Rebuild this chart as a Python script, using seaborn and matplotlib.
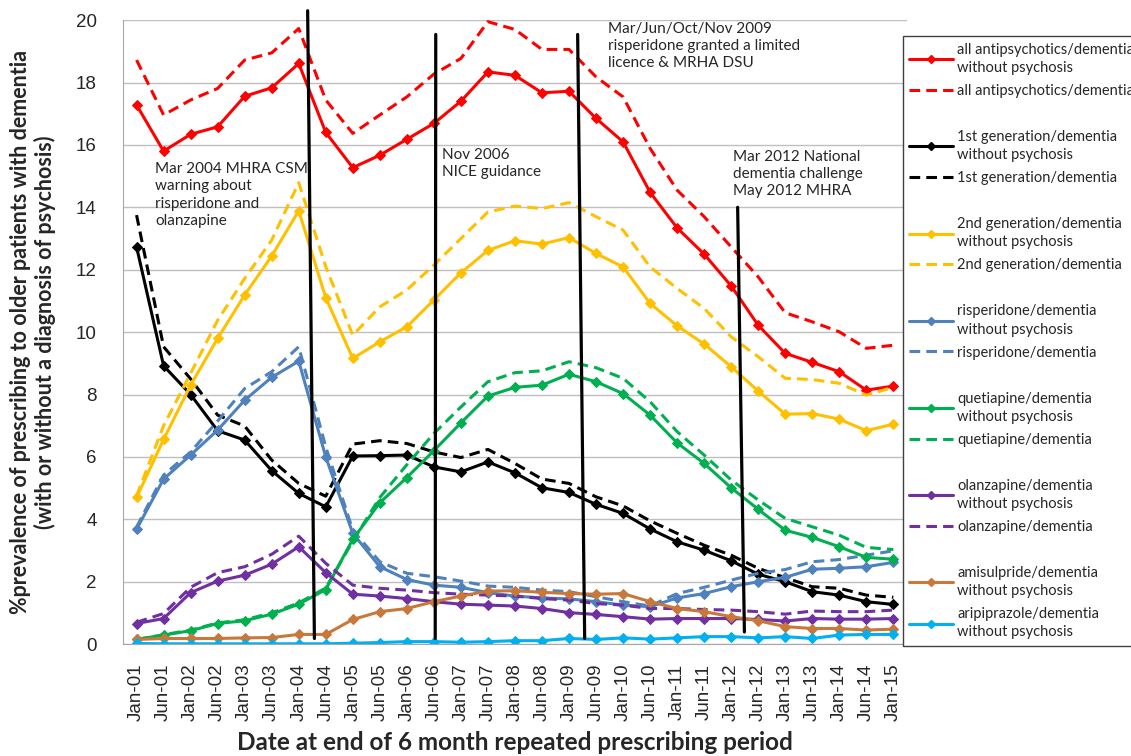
import numpy as np
import pandas as pd
import seaborn as sns
import matplotlib.pyplot as plt
from matplotlib.lines import Line2D
sns.set_style("white")
plt.rcParams['font.family'] = ['Lato', 'DejaVu Sans']

# Data
periods = []
for yr in range(1, 15):
    periods += ['Jan-%02d' % yr, 'Jun-%02d' % yr]
periods.append('Jan-15')

all_wo = [17.28, 15.8, 16.34, 16.58, 17.56, 17.83, 18.61, 16.40, 15.27, 15.67, 16.18, 16.69, 17.4, 18.34, 18.23,
          17.67, 17.72, 16.85, 16.1, 14.48, 13.34, 12.5, 11.48, 10.22, 9.32, 9.03, 8.73, 8.14, 8.27]
all_d = [18.72, 16.96, 17.44, 17.81, 18.72, 18.95, 19.73, 17.44, 16.37, 16.96, 17.54, 18.27, 18.77, 19.95, 19.7,
         19.06, 19.06, 18.18, 17.54, 15.89, 14.55, 13.7, 12.73, 11.77, 10.62, 10.33, 10.01, 9.48, 9.58]
first_wo = [12.73, 8.92, 8.0, 6.84, 6.54, 5.56, 4.83, 4.40, 6.03, 6.04, 6.06, 5.68, 5.52, 5.84, 5.49,
            5.01, 4.86, 4.48, 4.19, 3.69, 3.28, 3.01, 2.67, 2.24, 2.0, 1.68, 1.57, 1.36, 1.27]
first_d = [13.75, 9.53, 8.5, 7.34, 6.99, 5.9, 5.15, 4.74, 6.41, 6.52, 6.43, 6.16, 5.98, 6.24, 5.79,
           5.29, 5.15, 4.72, 4.43, 3.95, 3.55, 3.17, 2.85, 2.43, 2.13, 1.84, 1.79, 1.57, 1.5]
second_wo = [4.70, 6.56, 8.3, 9.80, 11.19, 12.44, 13.89, 11.1, 9.16, 9.69, 10.17, 11.03, 11.9, 12.62, 12.93,
             12.82, 13.03, 12.52, 12.09, 10.92, 10.2, 9.62, 8.89, 8.11, 7.37, 7.39, 7.21, 6.84, 7.05]
second_d = [4.75, 7.0, 8.68, 10.38, 11.72, 12.95, 14.79, 12.1, 9.9, 10.81, 11.35, 12.15, 13.0, 13.85, 14.04,
            13.96, 14.15, 13.7, 13.27, 12.09, 11.4, 10.76, 9.85, 9.21, 8.52, 8.48, 8.36, 7.98, 8.23]
risp_wo = [3.68, 5.29, 6.06, 6.86, 7.82, 8.55, 9.07, 6.0, 3.55, 2.48, 2.07, 1.89, 1.82, 1.65, 1.54,
           1.48, 1.45, 1.36, 1.25, 1.2, 1.48, 1.62, 1.84, 2.0, 2.14, 2.40, 2.43, 2.48, 2.62]
risp_d = [3.75, 5.42, 6.16, 7.15, 8.19, 8.73, 9.53, 6.32, 3.65, 2.64, 2.27, 2.16, 2.02, 1.86, 1.82,
          1.73, 1.68, 1.52, 1.36, 1.22, 1.62, 1.82, 2.05, 2.27, 2.39, 2.64, 2.71, 2.85, 2.99]
quet_wo = [0.15, 0.29, 0.43, 0.66, 0.75, 0.96, 1.28, 1.75, 3.36, 4.53, 5.34, 6.2, 7.09, 7.95, 8.23,
           8.3, 8.65, 8.41, 8.03, 7.34, 6.45, 5.79, 5.01, 4.32, 3.65, 3.42, 3.12, 2.78, 2.72]
quet_d = [0.15, 0.3, 0.45, 0.68, 0.78, 1.0, 1.32, 1.8, 3.3, 4.7, 5.75, 6.75, 7.6, 8.41, 8.7,
          8.76, 9.05, 8.86, 8.52, 7.77, 6.81, 6.06, 5.26, 4.62, 4.03, 3.76, 3.49, 3.1, 3.03]
olan_wo = [0.66, 0.82, 1.65, 2.02, 2.21, 2.56, 3.12, 2.29, 1.6, 1.54, 1.46, 1.36, 1.28, 1.25, 1.22,
           1.14, 1.01, 0.95, 0.88, 0.8, 0.82, 0.82, 0.82, 0.79, 0.74, 0.82, 0.8, 0.8, 0.82]
olan_d = [0.7, 0.98, 1.82, 2.29, 2.48, 2.88, 3.46, 2.59, 1.89, 1.79, 1.73, 1.65, 1.6, 1.57, 1.54,
          1.46, 1.41, 1.3, 1.25, 1.14, 1.14, 1.11, 1.09, 1.04, 0.96, 1.06, 1.04, 1.04, 1.09]
amis_wo = [0.15, 0.18, 0.18, 0.18, 0.2, 0.21, 0.31, 0.31, 0.79, 1.04, 1.14, 1.36, 1.54, 1.7, 1.71,
           1.66, 1.62, 1.6, 1.62, 1.36, 1.14, 1.04, 0.88, 0.75, 0.56, 0.5, 0.5, 0.45, 0.48]
arip_wo = [0.02, 0.01, 0.01, 0.01, 0.01, 0.01, 0.01, 0.01, 0.03, 0.05, 0.08, 0.08, 0.06, 0.08, 0.11,
           0.11, 0.18, 0.15, 0.2, 0.16, 0.2, 0.24, 0.24, 0.2, 0.24, 0.18, 0.29, 0.31, 0.31]

# (label, values, colour, dashed?) in legend order; None = gap in legend
series = [
    ('all antipsychotics/dementia\nwithout psychosis', all_wo, '#FF0000', False),
    ('all antipsychotics/dementia', all_d, '#FF0000', True), None,
    ('1st generation/dementia\nwithout psychosis', first_wo, 'black', False),
    ('1st generation/dementia', first_d, 'black', True), None,
    ('2nd generation/dementia\nwithout psychosis', second_wo, '#FFC000', False),
    ('2nd generation/dementia', second_d, '#FFC000', True), None,
    ('risperidone/dementia\nwithout psychosis', risp_wo, '#4F81BD', False),
    ('risperidone/dementia', risp_d, '#4F81BD', True), None,
    ('quetiapine/dementia\nwithout psychosis', quet_wo, '#00B050', False),
    ('quetiapine/dementia', quet_d, '#00B050', True), None,
    ('olanzapine/dementia\nwithout psychosis', olan_wo, '#7030A0', False),
    ('olanzapine/dementia', olan_d, '#7030A0', True), None,
    ('amisulpride/dementia\nwithout psychosis', amis_wo, '#C8783A', False),
    ('aripiprazole/dementia\nwithout psychosis', arip_wo, '#00B0F0', False),
]

# event lines: (x_top, x_bottom), (y_top, y_bottom) in category units
events_x = [(6.33, 6.58), (11.07, 11.05), (16.32, 16.58), (22.24, 22.49)]
events_y = [(20.3, 0.18), (19.54, 0.18), (19.54, 0.18), (14.0, 0.39)]
notes = ['Mar 2004 MHRA CSM\nwarning about\nrisperidone and\nolanzapine',
         'Nov 2006\nNICE guidance',
         'Mar/Jun/Oct/Nov 2009\nrisperidone granted a limited\nlicence & MRHA DSU',
         'Mar 2012 National\ndementia challenge\nMay 2012 MHRA']
notes_xy = [(0.68, 15.45), (11.3, 15.9), (17.45, 19.95), (22.05, 15.85)]

idx = np.arange(len(periods))

fig = plt.figure(figsize=(11.31, 7.56), dpi=100)
ax = fig.add_axes([0.1088, 0.148, 0.693, 0.8254])

handles = []
for s in series:
    if s is None:
        handles.append(Line2D([], [], linestyle='none', label=' '))
        continue
    label, vals, col, dashed = s
    df = pd.DataFrame({'x': idx, 'y': vals})
    if dashed:
        sns.lineplot(data=df, x='x', y='y', color=col, lw=2.2, linestyle=(0, (3.5, 2)), ax=ax, legend=False)
        handles.append(Line2D([], [], color=col, lw=2.2, linestyle=(0, (3.5, 2)), label=label))
    else:
        sns.lineplot(data=df, x='x', y='y', color=col, lw=2.2, marker='D', markersize=5,
                     mec=col, mfc=col, ax=ax, legend=False)
        handles.append(Line2D([], [], color=col, lw=2.2, marker='D', markersize=4, mec=col, label=label))

for (x0, x1), (y0, y1) in zip(events_x, events_y):
    ax.plot([x0, x1], [y0, y1], color='black', lw=2.3, clip_on=False, zorder=5)
for txt, (tx, ty) in zip(notes, notes_xy):
    ax.text(tx, ty, txt, fontsize=11, va='top', ha='left', linespacing=1.3, zorder=6)

ax.set_xlim(-0.5, len(periods) - 0.5)
ax.set_ylim(0, 20)
ax.set_yticks(np.arange(0, 21, 2))
ax.set_xticks(idx)
ax.set_xticklabels(periods, rotation=90, family='Liberation Sans', fontsize=13.5)
ax.set_xticks(np.arange(-0.5, len(periods), 1), minor=True)
ax.tick_params(axis='x', which='major', length=0, pad=14)
ax.tick_params(axis='x', which='minor', length=5, color='#A6A6A6', direction='out')
ax.tick_params(axis='y', length=6, color='#A6A6A6', direction='out', pad=13)
for t in ax.get_yticklabels():
    t.set_family('Liberation Sans')
    t.set_fontsize(13.5)
ax.yaxis.grid(True, color='#BFBFBF', lw=1)
for sp in ['top', 'right']:
    ax.spines[sp].set_visible(False)
for sp in ['left', 'bottom']:
    ax.spines[sp].set_color('#A6A6A6')
ax.set_xlabel('Date at end of 6 month repeated prescribing period', fontsize=17.5, fontweight='bold', labelpad=7)
ax.set_ylabel('%prevalence of prescribing to older patients with dementia\n(with or without a diagnosis of psychosis)',
              fontsize=15.5, fontweight='bold', labelpad=14, linespacing=1.15)

leg = ax.legend(handles=handles, loc='upper left', bbox_to_anchor=(0.798, 0.952), bbox_transform=fig.transFigure,
                borderaxespad=0, fancybox=False, edgecolor='#404040', framealpha=1, fontsize=10.5,
                handlelength=3.0, handletextpad=0.3, labelspacing=0.62, borderpad=0.45, numpoints=1)
leg.get_frame().set_linewidth(1)
for t in leg.get_texts():
    t.set_linespacing(1.37)

plt.savefig('out.png', dpi=100)
